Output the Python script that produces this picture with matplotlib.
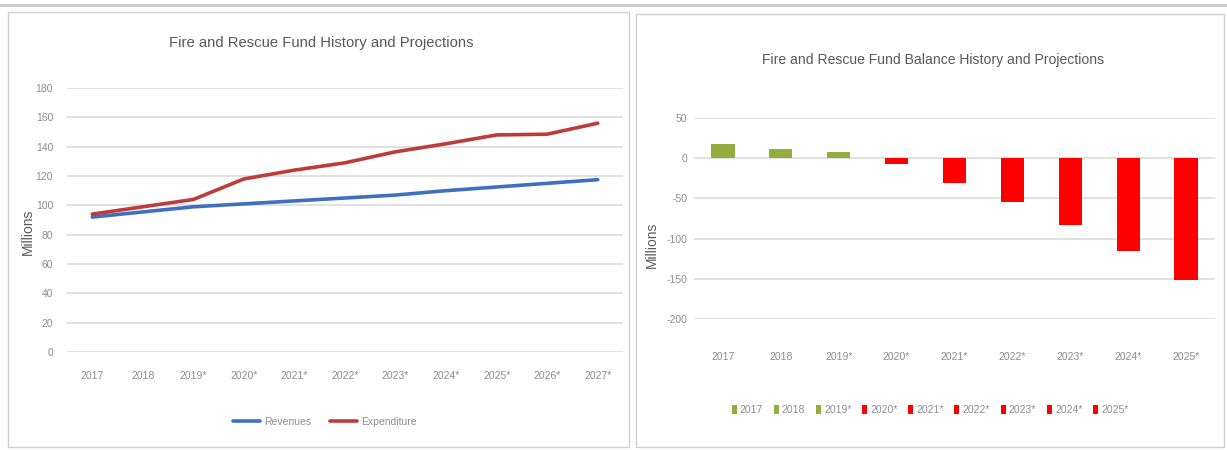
import matplotlib
matplotlib.use("Agg")
import matplotlib.pyplot as plt
from matplotlib.patches import Rectangle
from matplotlib.lines import Line2D

plt.rcParams['font.family'] = ['Liberation Sans Narrow', 'Liberation Sans', 'DejaVu Sans']
plt.rcParams['axes.unicode_minus'] = False

# ---- data -------------------------------------------------------------
fund_years = ["2017", "2018", "2019*", "2020*", "2021*", "2022*",
              "2023*", "2024*", "2025*", "2026*", "2027*"]
revenues = [92, 95.5, 99, 101, 103, 105, 107, 110, 112.5, 115, 117.5]
expenditure = [94, 99, 104, 118, 124, 129, 136.5, 142, 148, 148.5, 156]

balance_years = ["2017", "2018", "2019*", "2020*", "2021*",
                 "2022*", "2023*", "2024*", "2025*"]
balance = [18, 12, 8, -7, -31, -54, -83, -115, -151]

# ---- styling ----------------------------------------------------------
BLUE = "#3f6fc0"
RED_LINE = "#be3b3b"
GREEN = "#93ad3f"
RED_BAR = "#ff0000"
GRID = "#d9d9d9"
TITLE_C = "#595959"
TICK_C = "#8c8c8c"

W, H = 1227, 450
fig = plt.figure(figsize=(W / 100, H / 100), dpi=100)
fig.patch.set_facecolor("white")


def px_rect(x0, y0, x1, y1):
    """Convert pixel box (top-left origin) into figure fraction [l, b, w, h]."""
    return [x0 / W, 1 - y1 / H, (x1 - x0) / W, (y1 - y0) / H]


def px_xy(x, y):
    return x / W, 1 - y / H


# panel frames
fig.add_artist(Line2D([0, 1], [1 - 5 / H, 1 - 5 / H], transform=fig.transFigure,
                      color="#c8c8c8", lw=2))
for (x0, y0, x1, y1) in [(8, 12, 629, 447), (636, 14, 1224, 447)]:
    fig.add_artist(Rectangle((x0 / W, 1 - y1 / H), (x1 - x0) / W, (y1 - y0) / H,
                             transform=fig.transFigure, fill=False,
                             edgecolor="#d0d0d0", lw=1))


def style_axes(ax):
    for s in ax.spines.values():
        s.set_visible(False)
    ax.tick_params(length=0, colors=TICK_C, labelsize=7.5)
    ax.yaxis.grid(True, color=GRID, lw=1.1)
    ax.set_axisbelow(True)


# ---- left: revenues vs expenditure ------------------------------------
ax1 = fig.add_axes(px_rect(67, 88, 623, 352))
style_axes(ax1)
x1 = range(len(fund_years))
ax1.plot(x1, revenues, color=BLUE, lw=2.6, label="Revenues", solid_capstyle="round")
ax1.plot(x1, expenditure, color=RED_LINE, lw=2.6, label="Expenditure", solid_capstyle="round")
ax1.set_xlim(-0.5, len(fund_years) - 0.5)
ax1.set_ylim(0, 180)
ax1.set_yticks(range(0, 181, 20))
ax1.set_xticks(list(x1))
ax1.set_xticklabels(fund_years)
ax1.tick_params(axis="x", pad=14)
ax1.tick_params(axis="y", pad=10)
fig.text(*px_xy(28, 232), "Millions", rotation=90, ha="center", va="center",
         fontsize=10, color=TITLE_C)
fig.text(*px_xy(321, 43), "Fire and Rescue Fund History and Projections",
         ha="center", va="center", fontsize=10.7, color=TITLE_C)
leg1 = fig.legend(handles=ax1.get_lines(), loc="center", bbox_to_anchor=px_xy(325, 422),
                  ncol=2, frameon=False, fontsize=7.5, handlelength=2.6,
                  columnspacing=1.8, handletextpad=0.4)
for t in leg1.get_texts():
    t.set_color(TICK_C)

# ---- right: fund balance ----------------------------------------------
ax2 = fig.add_axes(px_rect(694, 118, 1215, 319))
style_axes(ax2)
x2 = range(len(balance_years))
colors = [GREEN if v >= 0 else RED_BAR for v in balance]
bars = ax2.bar(x2, balance, width=0.4, color=colors, zorder=3)
ax2.set_xlim(-0.5, len(balance_years) - 0.5)
ax2.set_ylim(-200, 50)
ax2.set_yticks(range(-200, 51, 50))
ax2.set_xticks(list(x2))
ax2.set_xticklabels(balance_years)
ax2.tick_params(axis="x", pad=24)
ax2.tick_params(axis="y", pad=5)
fig.text(*px_xy(652, 245), "Millions", rotation=90, ha="center", va="center",
         fontsize=10, color=TITLE_C)
fig.text(*px_xy(933, 60), "Fire and Rescue Fund Balance History and Projections",
         ha="center", va="center", fontsize=10.1, color=TITLE_C)
leg2 = fig.legend(handles=list(bars), labels=balance_years, loc="center",
                  bbox_to_anchor=px_xy(930, 410), ncol=len(balance_years),
                  frameon=False, fontsize=7.5, handlelength=0.5, handleheight=1.0,
                  columnspacing=1.0, handletextpad=0.3)
for t in leg2.get_texts():
    t.set_color(TICK_C)

fig.savefig("out.png", dpi=100, facecolor="white")
